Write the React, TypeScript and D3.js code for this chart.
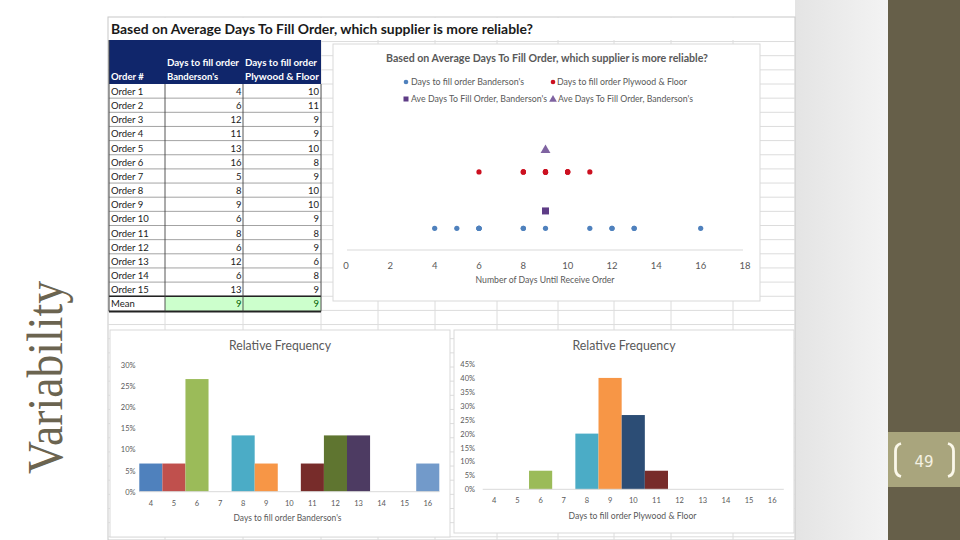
import React from "react";
import * as d3 from "d3";

// ---------- data ----------
const orderLabels = ["Order 1","Order 2","Order 3","Order 4","Order 5","Order 6","Order 7","Order 8","Order 9","Order 10","Order 11","Order 12","Order 13","Order 14","Order 15"];
const bandersonDays = [4, 6, 12, 11, 13, 16, 5, 8, 9, 6, 8, 6, 12, 6, 13];
const plywoodDays = [10, 11, 9, 9, 10, 8, 9, 10, 10, 9, 8, 9, 6, 8, 9];
const bandersonMean = 9;
const plywoodMean = 9;

// scatter vertical levels (arbitrary y values used in the dot plot)
const bandersonLevel = 1;
const bandersonAvgLevel = 1.8;
const plywoodLevel = 3.6;
const plywoodAvgLevel = 4.6;
const scatterXTicks = [0, 2, 4, 6, 8, 10, 12, 14, 16, 18];
const legendLabels = [
  "Days to fill order Banderson's",
  "Days to fill order Plywood & Floor",
  "Ave Days To Fill Order, Banderson's",
  "Ave Days To Fill Order, Banderson's",
];

const dayCategories = ["4","5","6","7","8","9","10","11","12","13","14","15","16"];
const bandersonRelFreq = [6.67, 6.67, 26.67, 0, 13.33, 6.67, 0, 6.67, 13.33, 13.33, 0, 0, 6.67];
const plywoodRelFreq = [0, 0, 6.67, 0, 20, 40, 26.67, 6.67, 0, 0, 0, 0, 0];
const barColors = ["#4f81bd","#c0504d","#9bbb59","#8064a2","#4bacc6","#f79646","#2c4d75","#772c2a","#5f7530","#4d3b62","#276a7c","#b65708","#729aca"];
const hist1YTicks = [0, 5, 10, 15, 20, 25, 30];
const hist2YTicks = [0, 5, 10, 15, 20, 25, 30, 35, 40, 45];

const FONT = "Lato, 'Open Sans', sans-serif";
const GREY = "#595959";

function Histogram({ values, ticks, yMax, x0, x1, yBase, yTop, title, titleX, titleW, xTitle, xTitleX, xTitleW, yLabelX, tickY, xTitleY }: any) {
  const x = d3.scaleBand().domain(dayCategories).range([x0, x1]).padding(0);
  const y = d3.scaleLinear().domain([0, yMax]).range([yBase, yTop]);
  return (
    <g>
      <text x={titleX} y={350} fontFamily={FONT} fontSize={13} fill={GREY} textAnchor="middle" textLength={titleW} lengthAdjust="spacingAndGlyphs">{title}</text>
      {ticks.map((t: number) => (
        <text key={t} x={yLabelX} y={y(t) + 3} fontFamily={FONT} fontSize={7.5} fill={GREY} textAnchor="end">{t + "%"}</text>
      ))}
      {values.map((v: number, i: number) =>
        v > 0 ? (
          <rect key={i} x={x(dayCategories[i])} y={y(v)} width={x.bandwidth()} height={yBase - y(v)} fill={barColors[i]} />
        ) : null
      )}
      <line x1={x0} x2={x1} y1={yBase} y2={yBase} stroke="#d9d9d9" strokeWidth={1} />
      {dayCategories.map((c) => (
        <text key={c} x={(x(c) as number) + x.bandwidth() / 2} y={tickY} fontFamily={FONT} fontSize={7.5} fill={GREY} textAnchor="middle">{c}</text>
      ))}
      <text x={xTitleX} y={xTitleY} fontFamily={FONT} fontSize={9} fill={GREY} textAnchor="middle" textLength={xTitleW} lengthAdjust="spacingAndGlyphs">{xTitle}</text>
    </g>
  );
}

export default function App() {
  // gridlines of the spreadsheet
  const colLines = [165, 243, 321, 378, 435, 497, 558, 614, 671, 733];
  const rowH = 14.15;
  const rowLines = d3.range(-3, 33).map((k) => 84 + k * rowH).filter((v) => v < 540);

  // scatter scales
  const sx = d3.scaleLinear().domain([0, 18]).range([346, 745]);
  const sy = d3.scaleLinear().domain([0, 5]).range([250, 141.5]);

  const tableTop = 84;
  const rowsY = orderLabels.map((_, i) => tableTop + i * rowH);
  const meanTop = tableTop + orderLabels.length * rowH;

  return (
    <svg width={960} height={540} style={{ position: "absolute", left: 0, top: 0, display: "block" }} xmlns="http://www.w3.org/2000/svg">
      <defs>
        <linearGradient id="sidegrad" x1="0" x2="1" y1="0" y2="0">
          <stop offset="0" stopColor="#e4e4e4" />
          <stop offset="1" stopColor="#f3f3f3" />
        </linearGradient>
      </defs>
      <rect x={0} y={0} width={960} height={540} fill="#ffffff" />

      {/* Left title */}
      <text transform="translate(62,474) rotate(-90)" fontFamily="'Liberation Serif', 'DejaVu Serif', serif" fontSize={50} fill="#6b6450" textLength={193} lengthAdjust="spacingAndGlyphs">Variability</text>

      {/* right side panel */}
      <rect x={795} y={0} width={93} height={540} fill="url(#sidegrad)" />
      <rect x={888} y={0} width={72} height={540} fill="#665f49" />
      <rect x={888} y={432} width={72} height={55} fill="#a9a57d" />
      <path d="M901,443.5 Q895.5,445 895.5,451 L895.5,469 Q895.5,475 901,476.5" fill="none" stroke="#fbf8ea" strokeWidth={2.8} />
      <path d="M948,443.5 Q953.5,445 953.5,451 L953.5,469 Q953.5,475 948,476.5" fill="none" stroke="#fbf8ea" strokeWidth={2.8} />
      <text x={924} y={466.5} fontFamily="'DejaVu Sans', sans-serif" fontSize={15} fill="#f4f1e2" textAnchor="middle">49</text>

      {/* spreadsheet background */}
      <rect x={108} y={17} width={687} height={523} fill="#ffffff" stroke="#c8c8c8" strokeWidth={1} />
      {colLines.map((c) => (
        <line key={"c" + c} x1={c} x2={c} y1={17} y2={540} stroke="#dcdcdc" strokeWidth={1} />
      ))}
      {rowLines.map((r, i) => (
        <line key={"r" + i} x1={108} x2={795} y1={r} y2={r} stroke="#dcdcdc" strokeWidth={1} />
      ))}

      {/* sheet title */}
      <rect x={109} y={18} width={685} height={22} fill="#ffffff" />
      <text x={111} y={34} fontFamily={FONT} fontWeight="bold" fontSize={14} fill="#1a1a1a" textLength={422} lengthAdjust="spacingAndGlyphs">Based on Average Days To Fill Order, which supplier is more reliable?</text>

      {/* table */}
      <rect x={109} y={40} width={212} height={44} fill="#10266b" />
      <text x={111} y={80} fontFamily={FONT} fontWeight="bold" fontSize={9.5} fill="#ffffff">Order #</text>
      <text x={167} y={66} fontFamily={FONT} fontWeight="bold" fontSize={9.5} fill="#ffffff" textLength={72} lengthAdjust="spacingAndGlyphs">Days to fill order</text>
      <text x={167} y={80} fontFamily={FONT} fontWeight="bold" fontSize={9.5} fill="#ffffff">Banderson's</text>
      <text x={245} y={66} fontFamily={FONT} fontWeight="bold" fontSize={9.5} fill="#ffffff" textLength={72} lengthAdjust="spacingAndGlyphs">Days to fill order</text>
      <text x={245} y={80} fontFamily={FONT} fontWeight="bold" fontSize={9.5} fill="#ffffff" textLength={74} lengthAdjust="spacingAndGlyphs">Plywood &amp; Floor</text>
      <rect x={109} y={84} width={212} height={meanTop + rowH - 84} fill="#ffffff" />
      <rect x={165} y={meanTop} width={156} height={rowH + 1} fill="#ccffcc" />
      {orderLabels.map((lab, i) => (
        <g key={lab}>
          <text x={111} y={rowsY[i] + 11} fontFamily={FONT} fontSize={9.5} fill="#222">{lab}</text>
          <text x={241.5} y={rowsY[i] + 11} fontFamily={FONT} fontSize={9.5} fill="#222" textAnchor="end">{bandersonDays[i]}</text>
          <text x={319} y={rowsY[i] + 11} fontFamily={FONT} fontSize={9.5} fill="#222" textAnchor="end">{plywoodDays[i]}</text>
          <line x1={109} x2={321} y1={rowsY[i] + rowH} y2={rowsY[i] + rowH} stroke="#8c8c8c" strokeWidth={0.8} />
        </g>
      ))}
      <text x={111} y={meanTop + 11} fontFamily={FONT} fontSize={9.5} fill="#222">Mean</text>
      <text x={241.5} y={meanTop + 11} fontFamily={FONT} fontSize={9.5} fill="#006100" textAnchor="end">{bandersonMean}</text>
      <text x={319} y={meanTop + 11} fontFamily={FONT} fontSize={9.5} fill="#006100" textAnchor="end">{plywoodMean}</text>
      <line x1={109} x2={321} y1={meanTop} y2={meanTop} stroke="#222" strokeWidth={1.3} />
      <line x1={109} x2={321} y1={meanTop + rowH + 1} y2={meanTop + rowH + 1} stroke="#222" strokeWidth={2} />
      <line x1={109} x2={109} y1={40} y2={meanTop + rowH + 1} stroke="#444" strokeWidth={1} />
      <line x1={165} x2={165} y1={84} y2={meanTop + rowH + 1} stroke="#444" strokeWidth={0.9} />
      <line x1={243} x2={243} y1={84} y2={meanTop + rowH + 1} stroke="#444" strokeWidth={0.9} />
      <line x1={321} x2={321} y1={84} y2={meanTop + rowH + 1} stroke="#444" strokeWidth={0.9} />

      {/* scatter chart */}
      <rect x={333} y={44} width={427} height={257} fill="#ffffff" stroke="#d9d9d9" strokeWidth={1} />
      <text x={547} y={62} fontFamily={FONT} fontWeight="bold" fontSize={10.5} fill={GREY} textAnchor="middle" textLength={322} lengthAdjust="spacingAndGlyphs">Based on Average Days To Fill Order, which supplier is more reliable?</text>
      <circle cx={406} cy={82} r={2.3} fill="#4f81bd" />
      <text x={411} y={85} fontFamily={FONT} fontSize={8.5} fill={GREY} textLength={113} lengthAdjust="spacingAndGlyphs">{legendLabels[0]}</text>
      <circle cx={553} cy={82} r={2.3} fill="#cc1020" />
      <text x={557} y={85} fontFamily={FONT} fontSize={8.5} fill={GREY} textLength={130} lengthAdjust="spacingAndGlyphs">{legendLabels[1]}</text>
      <rect x={403.5} y={96.5} width={5} height={5} fill="#5e3c86" />
      <text x={411} y={102} fontFamily={FONT} fontSize={8.5} fill={GREY} textLength={136} lengthAdjust="spacingAndGlyphs">{legendLabels[2]}</text>
      <path d={d3.symbol(d3.symbolTriangle, 26)() as string} transform="translate(553,99.5)" fill="#7f63a1" />
      <text x={558} y={102} fontFamily={FONT} fontSize={8.5} fill={GREY} textLength={135} lengthAdjust="spacingAndGlyphs">{legendLabels[3]}</text>

      <line x1={347} x2={743} y1={sy(0)} y2={sy(0)} stroke="#d9d9d9" strokeWidth={1} />
      {scatterXTicks.map((t) => (
        <text key={t} x={sx(t)} y={268.5} fontFamily={FONT} fontSize={9.5} fill={GREY} textAnchor="middle">{t}</text>
      ))}
      <text x={545} y={283} fontFamily={FONT} fontSize={8.5} fill={GREY} textAnchor="middle" textLength={139} lengthAdjust="spacingAndGlyphs">Number of Days Until Receive Order</text>
      {bandersonDays.map((d, i) => (
        <circle key={"b" + i} cx={sx(d)} cy={sy(bandersonLevel)} r={2.6} fill="#4f81bd" />
      ))}
      {plywoodDays.map((d, i) => (
        <circle key={"p" + i} cx={sx(d)} cy={sy(plywoodLevel)} r={2.6} fill="#cc1020" />
      ))}
      <rect x={sx(bandersonMean) - 3.5} y={sy(bandersonAvgLevel) - 3.5} width={7} height={7} fill="#5e3c86" />
      <path d={d3.symbol(d3.symbolTriangle, 42)() as string} transform={`translate(${sx(plywoodMean)},${sy(plywoodAvgLevel)})`} fill="#7f63a1" />

      {/* histogram 1 */}
      <rect x={110} y={330} width={340} height={207} fill="#ffffff" stroke="#d9d9d9" strokeWidth={1} />
      <Histogram values={bandersonRelFreq} ticks={hist1YTicks} yMax={30} x0={139.3} x1={439.3} yBase={491.7} yTop={365}
        title="Relative Frequency" titleX={280} titleW={102}
        xTitle="Days to fill order Banderson's" xTitleX={287.5} xTitleW={108} yLabelX={135.5} tickY={505.5} xTitleY={520.5} />

      {/* histogram 2 */}
      <rect x={454} y={330} width={340} height={203} fill="#ffffff" stroke="#d9d9d9" strokeWidth={1} />
      <Histogram values={plywoodRelFreq} ticks={hist2YTicks} yMax={45} x0={482.7} x1={783.8} yBase={489.3} yTop={364}
        title="Relative Frequency" titleX={624} titleW={103}
        xTitle="Days to fill order Plywood & Floor" xTitleX={632.5} xTitleW={128} yLabelX={475} tickY={503} xTitleY={518.5} />
    </svg>
  );
}
